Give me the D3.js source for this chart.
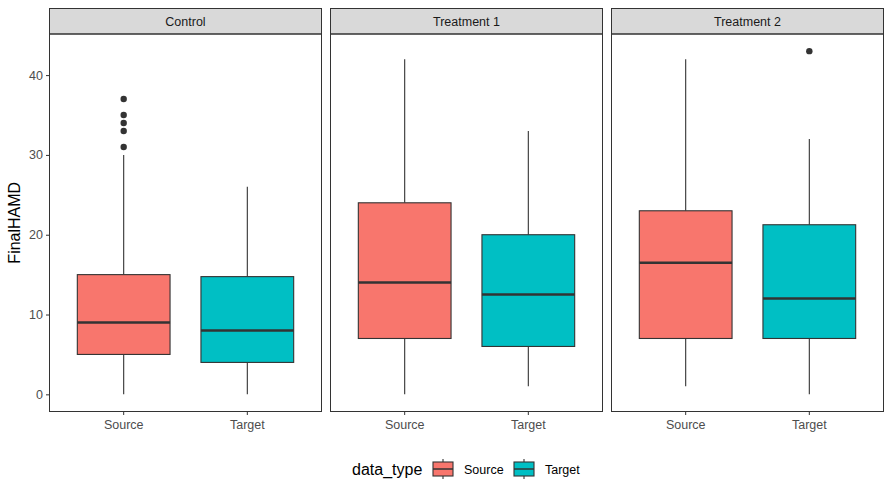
<!DOCTYPE html>
<html>
<head>
<meta charset="utf-8">
<script src="https://cdn.jsdelivr.net/npm/d3@7"></script>
<style>
  body { margin: 0; background: #fff; }
  text { font-family: "Liberation Sans", Arial, sans-serif; }
</style>
</head>
<body>
<div id="chart"></div>
<script>
// facets, groups and box stats
var facets = ['Control', 'Treatment 1', 'Treatment 2'];
var groups = ['Source', 'Target'];
var groupColors = ['#F8766D', '#00BFC4'];
var yTicks = [0, 10, 20, 30, 40];

// [lower whisker, q1, median, q3, upper whisker] per facet, per group
var sourceStats = [[0, 5, 9, 15, 30], [0, 7, 14, 24, 42], [1, 7, 16.5, 23, 42]];
var targetStats = [[0, 4, 8, 14.75, 26], [1, 6, 12.5, 20, 33], [0, 7, 12, 21.25, 32]];
var sourceOutliers = [[31, 33, 34, 35, 37], [], []];
var targetOutliers = [[], [], [43]];

var width = 892, height = 498;
var panelTop = 34, panelBottom = 411.5, stripTop = 8.5;
var panelLefts = [49.5, 330.5, 611.5], panelW = 272;
var tickFont = 12.5, titleFont = 16;

var svg = d3.select('#chart').append('svg')
    .attr('width', width)
    .attr('height', height);

var y = d3.scaleLinear().domain([-2.15, 45.15]).range([panelBottom, panelTop]);

facets.forEach(function(f, i) {
    var left = panelLefts[i];
    var x = d3.scaleBand().domain(groups).range([left, left + panelW]).paddingOuter(0.1).paddingInner(0);
    var g = svg.append('g');

    // strip
    g.append('rect')
        .attr('x', left).attr('y', stripTop)
        .attr('width', panelW).attr('height', panelTop - stripTop)
        .attr('fill', '#D9D9D9').attr('stroke', '#333333').attr('stroke-width', 1);
    g.append('text')
        .attr('x', left + panelW / 2).attr('y', (stripTop + panelTop) / 2 + 4.5)
        .attr('text-anchor', 'middle').attr('font-size', tickFont).attr('fill', '#1A1A1A')
        .text(f);

    var data = [
        {grp: 'Source', s: sourceStats[i], out: sourceOutliers[i], c: groupColors[0]},
        {grp: 'Target', s: targetStats[i], out: targetOutliers[i], c: groupColors[1]}
    ];

    data.forEach(function(d) {
        var cx = x(d.grp) + x.bandwidth() / 2;
        var bw = x.bandwidth() * 0.75;
        g.append('line').attr('x1', cx).attr('x2', cx)
            .attr('y1', y(d.s[3])).attr('y2', y(d.s[4]))
            .attr('stroke', '#333333').attr('stroke-width', 1.1);
        g.append('line').attr('x1', cx).attr('x2', cx)
            .attr('y1', y(d.s[0])).attr('y2', y(d.s[1]))
            .attr('stroke', '#333333').attr('stroke-width', 1.1);
        g.append('rect')
            .attr('x', cx - bw / 2).attr('y', y(d.s[3]))
            .attr('width', bw).attr('height', y(d.s[1]) - y(d.s[3]))
            .attr('fill', d.c).attr('stroke', '#333333').attr('stroke-width', 1.1);
        g.append('line').attr('x1', cx - bw / 2).attr('x2', cx + bw / 2)
            .attr('y1', y(d.s[2])).attr('y2', y(d.s[2]))
            .attr('stroke', '#333333').attr('stroke-width', 2.5);
        g.selectAll(null).data(d.out).enter().append('circle')
            .attr('cx', cx).attr('cy', function(v) { return y(v); })
            .attr('r', 3.2).attr('fill', '#333333');
    });

    // panel border
    g.append('rect')
        .attr('x', left).attr('y', panelTop)
        .attr('width', panelW).attr('height', panelBottom - panelTop)
        .attr('fill', 'none').attr('stroke', '#333333').attr('stroke-width', 1);

    // x axis
    var xa = g.append('g').attr('transform', 'translate(0,' + panelBottom + ')')
        .call(d3.axisBottom(x).tickSize(3.5).tickPadding(5));
    xa.select('.domain').remove();
    xa.selectAll('line').attr('stroke', '#333333');
    xa.selectAll('text').attr('font-size', tickFont).attr('fill', '#4D4D4D')
        .attr('font-family', '"Liberation Sans", Arial, sans-serif');

    if (i === 0) {
        var ya = g.append('g').attr('transform', 'translate(' + left + ',0)')
            .call(d3.axisLeft(y).tickValues(yTicks).tickSize(3.5).tickPadding(3));
        ya.select('.domain').remove();
        ya.selectAll('line').attr('stroke', '#333333');
        ya.selectAll('text').attr('font-size', tickFont).attr('fill', '#4D4D4D')
            .attr('font-family', '"Liberation Sans", Arial, sans-serif');
    }
});

svg.append('text')
    .attr('transform', 'translate(20,' + ((panelTop + panelBottom) / 2) + ') rotate(-90)')
    .attr('text-anchor', 'middle').attr('font-size', titleFont).attr('fill', '#000')
    .text('FinalHAMD');

// legend
var legend = svg.append('g').attr('transform', 'translate(0,469)');
legend.append('text').attr('x', 352).attr('y', 5.5).attr('font-size', titleFont).attr('fill', '#000').text('data_type');
var keyX = [433, 514];
groups.forEach(function(gname, k) {
    var kx = keyX[k];
    legend.append('line').attr('x1', kx + 10).attr('x2', kx + 10).attr('y1', -10).attr('y2', 10)
        .attr('stroke', '#333333').attr('stroke-width', 1.1);
    legend.append('rect').attr('x', kx).attr('y', -7).attr('width', 20).attr('height', 14)
        .attr('fill', groupColors[k]).attr('stroke', '#333333').attr('stroke-width', 1.1);
    legend.append('line').attr('x1', kx).attr('x2', kx + 20).attr('y1', 0).attr('y2', 0)
        .attr('stroke', '#333333').attr('stroke-width', 1.5);
    legend.append('text').attr('x', kx + 31).attr('y', 4.5).attr('font-size', tickFont).attr('fill', '#000').text(gname);
});
</script>
</body>
</html>
